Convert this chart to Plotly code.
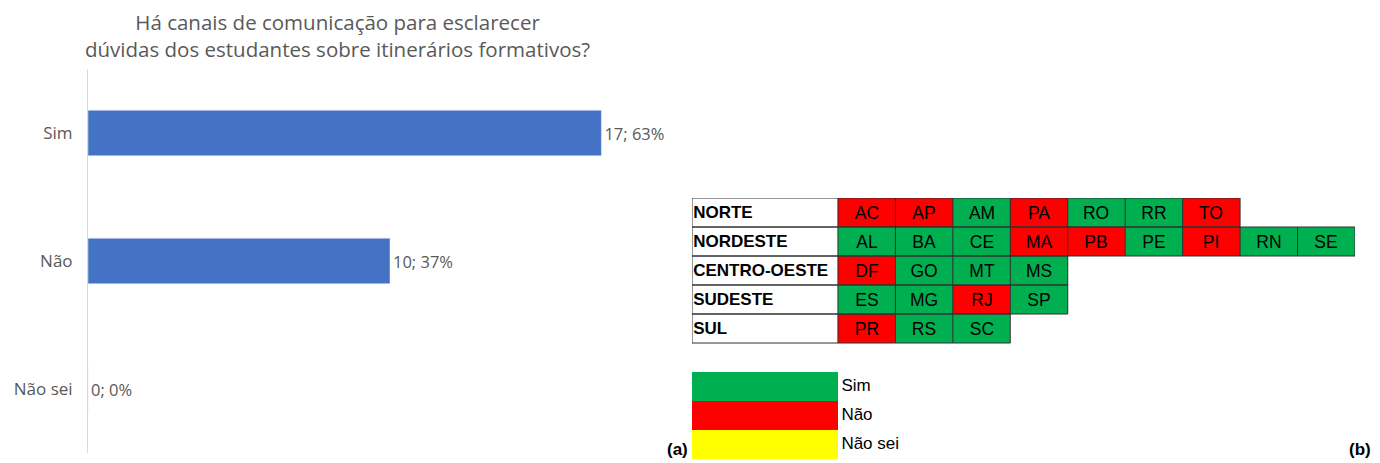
import plotly.graph_objects as go

# --- (a) bar chart data ---
categorias = ["Sim", "Não", "Não sei"]
quantidades = [17, 10, 0]
percentuais = [63, 37, 0]

# --- (b) state table data ---
regioes = ["NORTE", "NORDESTE", "CENTRO-OESTE", "SUDESTE", "SUL"]
ufs_norte = ["AC", "AP", "AM", "PA", "RO", "RR", "TO"]
resp_norte = ["Não", "Não", "Sim", "Não", "Sim", "Sim", "Não"]
ufs_nordeste = ["AL", "BA", "CE", "MA", "PB", "PE", "PI", "RN", "SE"]
resp_nordeste = ["Sim", "Sim", "Sim", "Não", "Não", "Sim", "Não", "Sim", "Sim"]
ufs_centro = ["DF", "GO", "MT", "MS"]
resp_centro = ["Não", "Sim", "Sim", "Sim"]
ufs_sudeste = ["ES", "MG", "RJ", "SP"]
resp_sudeste = ["Sim", "Sim", "Não", "Sim"]
ufs_sul = ["PR", "RS", "SC"]
resp_sul = ["Não", "Sim", "Sim"]
legenda = ["Sim", "Não", "Não sei"]

CODE = {"Não": 0, "Sim": 1, "Não sei": 2}
SCALE = [[0, "#FF0000"], [0.5, "#00B050"], [1, "#FFFF00"]]
GRAY = "#595959"
BORDER = "#303030"
LABEL_W = 2.54
TFONT = "Liberation Sans Narrow, Liberation Sans, Arial"
W, H = 1372, 455  # page body has an 8px margin


def px_x(v):
    return (v - 8) / W


def px_y(v):
    return 1 - (v - 8) / H


fig = go.Figure()

fig.add_trace(go.Bar(
    x=quantidades, y=categorias, orientation="h",
    marker_color="#4472C4", width=0.355,
    text=[f"{q}; {p}%" for q, p in zip(quantidades, percentuais)],
    textposition="outside", cliponaxis=False,
    textfont=dict(color=GRAY, size=16.5, family="Open Sans"),
    hoverinfo="skip",
))

linhas = [
    (ufs_norte, resp_norte), (ufs_nordeste, resp_nordeste),
    (ufs_centro, resp_centro), (ufs_sudeste, resp_sudeste), (ufs_sul, resp_sul),
]
ncol = max(len(u) for u, _ in linhas)
z, txt = [], []
for ufs, resp in linhas:
    z.append([CODE[r] for r in resp] + [None] * (ncol - len(ufs)))
    txt.append(ufs + [""] * (ncol - len(ufs)))

fig.add_trace(go.Heatmap(
    z=z, text=txt, x=[j + 0.5 for j in range(ncol)], y=list(range(len(regioes))),
    texttemplate="%{text}", textfont=dict(size=17.5, family=TFONT, color="black"),
    colorscale=SCALE, zmin=0, zmax=2, showscale=False, hoverinfo="skip",
    xaxis="x2", yaxis="y2",
))

# legend boxes
y0_leg = len(regioes) + 1
fig.add_trace(go.Heatmap(
    z=[[CODE[l]] for l in legenda], x=[-LABEL_W, 0],
    y=[y0_leg + i for i in range(len(legenda))],
    colorscale=SCALE, zmin=0, zmax=2, showscale=False, hoverinfo="skip",
    xaxis="x2", yaxis="y2",
))
fig.add_trace(go.Scatter(
    x=[0.06] * len(legenda), y=[y0_leg + i for i in range(len(legenda))],
    text=legenda, mode="text", textposition="middle right",
    textfont=dict(size=17, family=TFONT, color="black"),
    cliponaxis=False, hoverinfo="skip", xaxis="x2", yaxis="y2",
))

# region labels
fig.add_trace(go.Scatter(
    x=[-LABEL_W + 0.02] * len(regioes), y=[i + 0.05 for i in range(len(regioes))],
    text=[f"<b>{r}</b>" for r in regioes], mode="text", textposition="middle right",
    textfont=dict(size=17, family=TFONT, color="black"),
    cliponaxis=False, hoverinfo="skip", xaxis="x2", yaxis="y2",
))

# cell borders
bx, by = [], []
for i, (ufs, _) in enumerate(linhas):
    n = len(ufs)
    bx += [-LABEL_W, n, n, -LABEL_W, -LABEL_W, None]
    by += [i - 0.5, i - 0.5, i + 0.5, i + 0.5, i - 0.5, None]
    for j in range(n):
        bx += [j, j, None]
        by += [i - 0.5, i + 0.5, None]
fig.add_trace(go.Scatter(
    x=bx, y=by, mode="lines", line=dict(color=BORDER, width=1),
    cliponaxis=False, hoverinfo="skip", xaxis="x2", yaxis="y2",
))

fig.update_layout(
    width=W, height=H, margin=dict(l=0, r=0, t=0, b=0),
    paper_bgcolor="white", plot_bgcolor="white", showlegend=False,
    bargap=0.645,
    xaxis=dict(domain=[px_x(88), px_x(692)], range=[0, 20], visible=False),
    yaxis=dict(domain=[px_y(453), px_y(69)], autorange="reversed",
               showline=True, linecolor="#D9D9D9", linewidth=1, showgrid=False,
               ticks="", ticklabelstandoff=11,
               tickfont=dict(color=GRAY, size=17, family="Open Sans")),
    xaxis2=dict(domain=[px_x(692), px_x(1355)], range=[-LABEL_W, ncol], visible=False),
    yaxis2=dict(domain=[px_y(459), px_y(198)], range=[8.5, -0.5], visible=False),
    annotations=[
        dict(text="Há canais de comunicação para esclarecer<br>dúvidas dos estudantes sobre itinerários formativos?",
             x=px_x(337), y=px_y(35), xref="paper", yref="paper", showarrow=False,
             xanchor="center", yanchor="middle",
             font=dict(size=20.5, color=GRAY, family="Open Sans")),
        dict(text="<b>(a)</b>", x=px_x(690), y=0.004, xref="paper", yref="paper",
             xanchor="right", yanchor="bottom", showarrow=False,
             font=dict(size=17, color="black", family=TFONT)),
        dict(text="<b>(b)</b>", x=px_x(1373), y=0.004, xref="paper", yref="paper",
             xanchor="right", yanchor="bottom", showarrow=False,
             font=dict(size=17, color="black", family=TFONT)),
    ],
)

fig.write_html("out.html")
